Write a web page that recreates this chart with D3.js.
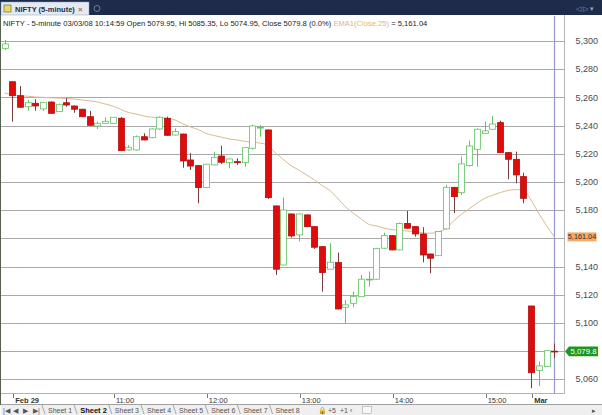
<!DOCTYPE html>
<meta charset="utf-8">
<style>
body { margin: 0; background: #fff; }
svg { display: block; font-family: "Liberation Sans", Arial, sans-serif; }
.grid line { stroke: #a9a9a9; shape-rendering: crispEdges; }
.yaxis text { font-size: 9px; fill: #4a4a4a; }
.xaxis text { font-size: 7.5px; fill: #333; }
.xaxis line { stroke: #777; shape-rendering: crispEdges; }
.sheets text { font-size: 7px; fill: #555; }
</style>
<svg width="602" height="415"></svg>
<script src="https://d3js.org/d3.v7.min.js"></script>
<script>

// 5-minute candles, index 0 = last bar of Feb 28, 1..67 = Feb 29, 68..71 = Mar 3
var opens  = [5294.8, 5271.1, 5261.2, 5253.4, 5255.8, 5251.8, 5256.7, 5249.9, 5256.2, 5253.9,
              5251.6, 5246.3, 5239.7, 5241.6, 5241.6, 5245.2, 5222.7, 5222.7, 5232.1, 5231.4,
              5237.6, 5245.2, 5233.3, 5234.0, 5215.6, 5211.6, 5196.0, 5212.1, 5218.4, 5213.7,
              5214.4, 5213.7, 5223.9, 5238.2, 5236.9, 5183.0, 5141.1, 5177.3, 5162.4, 5176.6,
              5168.3, 5154.1, 5138.1, 5142.8, 5111.1, 5113.9, 5118.6, 5130.5, 5131.0, 5153.0,
              5161.9, 5151.8, 5170.6, 5168.3, 5163.1, 5148.9, 5147.7, 5166.7, 5196.2, 5192.4,
              5211.6, 5223.2, 5234.5, 5237.4, 5242.1, 5220.8, 5216.1, 5203.8, 5112.0, 5066.2,
              5069.0, 5079.95];
var highs  = [5300.7, 5271.3, 5268.0, 5258.2, 5258.7, 5256.7, 5257.2, 5255.5, 5259.4, 5254.2,
              5251.8, 5250.4, 5242.8, 5245.9, 5246.0, 5246.0, 5226.2, 5233.0, 5234.5, 5238.0,
              5246.5, 5246.3, 5238.0, 5234.3, 5220.4, 5211.8, 5212.8, 5221.5, 5225.7, 5216.5,
              5216.8, 5224.5, 5240.5, 5240.4, 5237.2, 5183.3, 5189.0, 5177.5, 5177.5, 5177.0,
              5168.5, 5154.3, 5156.5, 5149.9, 5116.3, 5122.2, 5134.0, 5136.4, 5153.2, 5164.0,
              5162.2, 5171.2, 5179.4, 5168.5, 5167.9, 5149.2, 5165.2, 5197.9, 5196.5, 5218.0,
              5229.3, 5238.0, 5242.8, 5246.8, 5243.5, 5221.0, 5221.5, 5206.6, 5112.2, 5072.6,
              5080.5, 5085.35];
var lows   = [5293.6, 5242.8, 5252.5, 5250.6, 5250.6, 5250.4, 5248.5, 5249.5, 5253.4, 5249.1,
              5245.9, 5240.0, 5237.6, 5241.3, 5241.3, 5222.0, 5222.2, 5222.2, 5229.5, 5231.0,
              5237.0, 5233.0, 5233.0, 5210.1, 5208.5, 5184.9, 5195.8, 5211.8, 5212.8, 5209.7,
              5212.1, 5210.8, 5223.0, 5232.1, 5188.0, 5134.0, 5140.8, 5160.5, 5157.7, 5168.0,
              5152.5, 5122.2, 5138.0, 5109.7, 5099.8, 5111.1, 5118.3, 5125.8, 5130.8, 5152.5,
              5151.5, 5151.5, 5167.0, 5161.2, 5143.0, 5135.2, 5147.5, 5166.4, 5177.8, 5190.8,
              5210.9, 5210.9, 5234.0, 5237.0, 5220.5, 5201.9, 5199.1, 5184.9, 5053.6, 5055.3,
              5068.8, 5074.95];
var closes = [5297.9, 5261.2, 5253.0, 5256.2, 5253.9, 5256.5, 5248.7, 5255.1, 5254.6, 5251.6,
              5246.3, 5240.2, 5241.6, 5243.0, 5245.9, 5222.2, 5224.6, 5232.1, 5229.8, 5237.6,
              5245.9, 5233.1, 5235.7, 5214.9, 5211.3, 5196.0, 5212.6, 5217.5, 5214.0, 5216.3,
              5213.7, 5224.3, 5239.7, 5238.8, 5188.9, 5138.1, 5180.1, 5161.7, 5177.3, 5168.3,
              5153.7, 5135.7, 5143.1, 5109.9, 5112.8, 5118.6, 5131.0, 5131.0, 5152.9, 5161.9,
              5151.8, 5170.6, 5167.2, 5163.1, 5148.2, 5145.9, 5164.8, 5196.2, 5189.6, 5212.8,
              5225.5, 5237.4, 5236.2, 5241.1, 5220.8, 5216.1, 5205.0, 5188.4, 5064.7, 5069.5,
              5080.3, 5079.8];
// EMA1(Close,25), one value per bar
var ema25  = [5263.1, 5262.0, 5261.2, 5260.8, 5260.3, 5260.0, 5259.7, 5259.5, 5259.3, 5258.8,
              5258.2, 5257.5, 5256.7, 5255.3, 5253.8, 5251.5, 5249.3, 5248.2, 5246.8, 5246.0,
              5245.6, 5245.2, 5244.0, 5241.3, 5239.0, 5237.2, 5234.5, 5233.0, 5231.8, 5230.5,
              5229.8, 5228.8, 5228.2, 5227.6, 5226.0, 5220.5, 5216.0, 5211.5, 5208.5, 5205.0,
              5201.5, 5197.5, 5194.0, 5188.5, 5182.5, 5178.0, 5174.0, 5170.0, 5168.8, 5167.3,
              5166.2, 5165.7, 5165.2, 5164.6, 5163.9, 5163.6, 5164.6, 5167.0, 5172.5, 5177.0,
              5181.0, 5185.0, 5188.3, 5190.5, 5192.4, 5194.0, 5194.6, 5194.2, 5187.0, 5177.5,
              5169.0, 5161.04];

var xTickIndex  = [1, 14, 26, 38, 50, 62, 68];
var xTickLabels = ["Feb 29", "11:00", "12:00", "13:00", "14:00", "15:00", "Mar"];
var yTicks = [5060, 5080, 5100, 5120, 5140, 5160, 5180, 5200, 5220, 5240, 5260, 5280, 5300];
var sheetNames = ["Sheet 1", "Sheet 2", "Sheet 3", "Sheet 4", "Sheet 5", "Sheet 6", "Sheet 7", "Sheet 8"];
var activeSheet = 1;

var svg = d3.select("svg"),
    width = +svg.attr("width"),
    height = +svg.attr("height");

var plotRight = 564.5, plotTop = 15, plotBottom = 393.5;

var n = closes.length;
var x = d3.scaleLinear().domain([0, n - 1]).range([4.5, 554.4]);
var y = d3.scaleLinear().domain([5060, 5300]).range([379.3, 41]);
var fmt = d3.format(",");

// title band
svg.append("rect").attr("width", width).attr("height", 15).attr("fill", "#1f2b4a");
svg.append("rect").attr("x", 1).attr("y", 2).attr("width", 88).attr("height", 13)
    .attr("fill", "#e3eaf3").attr("stroke", "#8ea0bb").attr("stroke-width", 0.5);
svg.append("rect").attr("x", 4).attr("y", 5).attr("width", 7).attr("height", 7)
    .attr("fill", "#f3d46a").attr("stroke", "#6d8a3a").attr("stroke-width", 0.8);
svg.append("text").attr("x", 15).attr("y", 11.5)
    .attr("font-size", 7.5).attr("font-weight", "bold").attr("fill", "#1f2b4a")
    .text("NIFTY (5-minute)");
svg.append("text").attr("x", 78).attr("y", 11.5)
    .attr("font-size", 8).attr("font-weight", "bold").attr("fill", "#c8602a").text("×");
svg.append("circle").attr("cx", 97).attr("cy", 8.5).attr("r", 3)
    .attr("fill", "none").attr("stroke", "#6f7f9c").attr("stroke-width", 1);
svg.append("text").attr("x", 576).attr("y", 11).attr("font-size", 6.5).attr("fill", "#9aa6bb")
    .text("◁ ▷ ▾");

// plot frame
svg.append("line").attr("x1", 0.5).attr("x2", 0.5).attr("y1", 15).attr("y2", 405)
    .attr("stroke", "#56604f");
svg.append("line").attr("x1", plotRight).attr("x2", plotRight).attr("y1", 15).attr("y2", plotBottom)
    .attr("stroke", "#b4b4b4");
svg.append("line").attr("x1", 1).attr("x2", plotRight).attr("y1", plotBottom).attr("y2", plotBottom)
    .attr("stroke", "#b4b4b4");

// horizontal grid
svg.append("g").attr("class", "grid")
  .selectAll("line").data(yTicks).enter().append("line")
    .attr("x1", 1).attr("x2", plotRight)
    .attr("y1", function(d) { return Math.round(y(d)) + 0.5; })
    .attr("y2", function(d) { return Math.round(y(d)) + 0.5; });

// cursor line on the last bar
svg.append("line")
    .attr("x1", Math.round(x(n - 1)) + 0.5).attr("x2", Math.round(x(n - 1)) + 0.5)
    .attr("y1", 16).attr("y2", plotBottom)
    .attr("stroke", "#9595cf").attr("stroke-width", 1.2);

// EMA line
svg.append("path")
    .datum(ema25)
    .attr("fill", "none")
    .attr("stroke", "#d9bb8e")
    .attr("stroke-width", 1)
    .attr("d", d3.line()
        .x(function(d, i) { return x(i); })
        .y(function(d) { return y(d); })
        .curve(d3.curveMonotoneX));

// candles
var bars = d3.range(n).map(function(i) {
  return { i: i, o: opens[i], h: highs[i], l: lows[i], c: closes[i], up: closes[i] >= opens[i] };
});

var candle = svg.append("g").selectAll("g").data(bars).enter().append("g");

candle.append("line")
    .attr("x1", function(d) { return Math.round(x(d.i)) + 0.5; })
    .attr("x2", function(d) { return Math.round(x(d.i)) + 0.5; })
    .attr("y1", function(d) { return y(d.h); })
    .attr("y2", function(d) { return y(d.l); })
    .attr("stroke", function(d) { return d.up ? "#62c262" : "#7a3b3b"; })
    .attr("stroke-width", 1);

candle.append("rect")
    .attr("x", function(d) { return Math.round(x(d.i)) - 2.5; })
    .attr("width", 6)
    .attr("y", function(d) { return y(Math.max(d.o, d.c)); })
    .attr("height", function(d) { return Math.max(0.8, Math.abs(y(d.o) - y(d.c))); })
    .attr("fill", function(d) { return d.up ? "#fff" : "#e00c0c"; })
    .attr("stroke", function(d) { return d.up ? "#62c262" : "#b01010"; })
    .attr("stroke-width", 0.8);

// right value axis
var lastEma = ema25[n - 1], lastClose = closes[n - 1];
svg.append("g").attr("class", "yaxis")
  .selectAll("text")
  .data(yTicks.filter(function(d) {
    return Math.abs(y(d) - y(lastEma)) > 8 && Math.abs(y(d) - y(lastClose)) > 8;
  }))
  .enter().append("text")
    .attr("x", 598).attr("y", function(d) { return y(d); })
    .attr("dy", "0.35em").attr("text-anchor", "end")
    .text(function(d) { return fmt(d); });

// EMA value marker
var ye = y(lastEma);
svg.append("rect").attr("x", 567.5).attr("y", ye - 4.5).attr("width", 29).attr("height", 9)
    .attr("fill", "#f2ab6c");
svg.append("text").attr("x", 582).attr("y", ye).attr("dy", "0.35em").attr("text-anchor", "middle")
    .attr("font-size", 7.3).attr("fill", "#3a2a1a").text(d3.format(",.2f")(lastEma));

// last close marker
var yc = y(lastClose);
svg.append("path")
    .attr("d", "M565," + yc + "L569," + (yc - 4.8) + "H598V" + (yc + 4.8) + "H569Z")
    .attr("fill", "#1f971f");
svg.append("text").attr("x", 583.5).attr("y", yc).attr("dy", "0.35em").attr("text-anchor", "middle")
    .attr("font-size", 7.8).attr("fill", "#fff").text(fmt(lastClose));

// time axis
var xg = svg.append("g").attr("class", "xaxis");
xg.selectAll("line").data(xTickIndex).enter().append("line")
    .attr("x1", function(d) { return Math.round(x(d)) + 1.5; })
    .attr("x2", function(d) { return Math.round(x(d)) + 1.5; })
    .attr("y1", 394).attr("y2", 398);
xg.selectAll("text").data(xTickIndex).enter().append("text")
    .attr("x", function(d) { return x(d) + 3; })
    .attr("y", 402.5)
    .attr("font-weight", function(d, i) { return xTickLabels[i].indexOf(":") < 0 ? "bold" : null; })
    .text(function(d, i) { return xTickLabels[i]; });

// info line, sized so it ends where the original does (~x 428)
var info = svg.append("text").attr("x", 3).attr("y", 25.5).attr("font-size", 8).attr("fill", "#222");
info.append("tspan").text("NIFTY - 5-minute 03/03/08 10:14:59 Open 5079.95, Hi 5085.35, Lo 5074.95, Close 5079.8 (0.0%) ");
info.append("tspan").attr("fill", "#e3b679").text("EMA1(Close,25)");
info.append("tspan").text(" = " + d3.format(",.2f")(lastEma));
var infoLen = info.node().getComputedTextLength();
info.attr("font-size", 8 * 425 / infoLen);

// sheet tab bar
var sb = svg.append("g").attr("class", "sheets");
sb.append("rect").attr("x", 1).attr("y", 404).attr("width", width - 1).attr("height", 11).attr("fill", "#efefef");
sb.append("line").attr("x1", 1).attr("x2", width).attr("y1", 404.5).attr("y2", 404.5).attr("stroke", "#a0a0a0");
["|◀", "◀", "▶", "▶|"].forEach(function(s, k) {
  sb.append("text").attr("x", 3 + k * 10).attr("y", 412.5).attr("font-size", 5.5).attr("fill", "#555").text(s);
});
var tx = 48;
sheetNames.forEach(function(s, k) {
  var t = sb.append("text").attr("x", tx).attr("y", 412.5).text(s);
  if (k === activeSheet) t.attr("font-weight", "bold").style("fill", "#111").style("font-size", "7.5px");
  var w = t.node().getComputedTextLength();
  sb.append("line").attr("x1", tx - 6).attr("x2", tx - 3).attr("y1", 405).attr("y2", 414)
      .attr("stroke", "#8a8a8a").attr("stroke-width", 0.7);
  tx += w + 8;
});
sb.append("text").attr("x", 318).attr("y", 412.5).attr("font-size", 6).attr("fill", "#444").text("🔒");
sb.append("text").attr("x", 328).attr("y", 412.5).attr("font-size", 5.5).attr("fill", "#444").text("+5");
sb.append("text").attr("x", 340).attr("y", 412.5).attr("font-size", 5.5).attr("fill", "#444").text("+1");
sb.append("text").attr("x", 350).attr("y", 412.5).attr("font-size", 6).attr("fill", "#444").text("‹");
sb.append("rect").attr("x", 362.5).attr("y", 406.5).attr("width", 9).attr("height", 7)
    .attr("fill", "#f7f7f7").attr("stroke", "#aaa").attr("stroke-width", 0.6);
sb.append("text").attr("x", 592).attr("y", 412.5).attr("font-size", 6).attr("fill", "#444").text("▸");

</script>
